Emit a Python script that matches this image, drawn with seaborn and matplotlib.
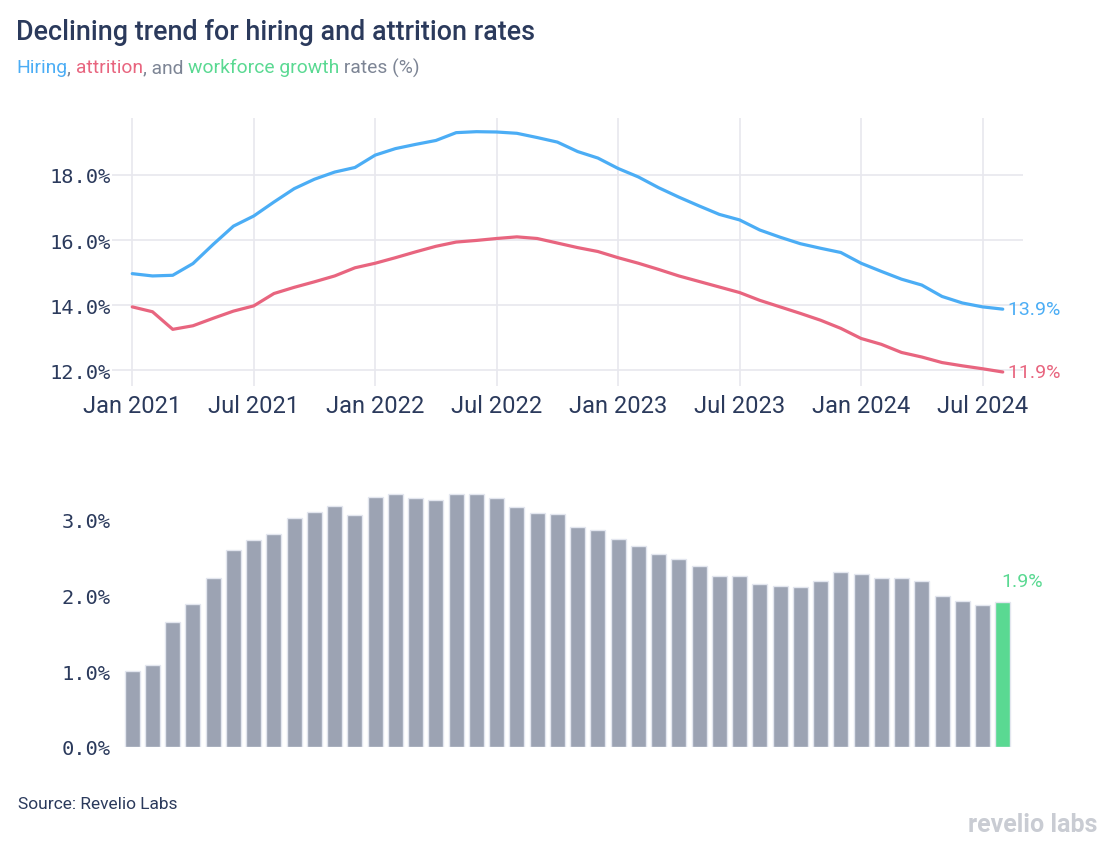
import matplotlib
matplotlib.use("Agg")
import matplotlib.pyplot as plt
import seaborn as sns
import pandas as pd
import numpy as np

# ---------------- data ----------------
months = pd.date_range("2021-01-01", "2024-08-01", freq="MS")
hiring = [14.97, 14.90, 14.92, 15.28, 15.87, 16.43, 16.74, 17.17, 17.58, 17.87,
          18.09, 18.23, 18.61, 18.81, 18.94, 19.06, 19.30, 19.33, 19.32, 19.28,
          19.15, 19.01, 18.72, 18.52, 18.20, 17.94, 17.61, 17.32, 17.05, 16.79,
          16.62, 16.31, 16.09, 15.89, 15.75, 15.62, 15.29, 15.04, 14.80, 14.62,
          14.27, 14.07, 13.95, 13.88]
attrition = [13.95, 13.80, 13.26, 13.37, 13.60, 13.82, 13.98, 14.36, 14.55, 14.72,
             14.90, 15.15, 15.29, 15.46, 15.64, 15.81, 15.94, 15.99, 16.05, 16.10,
             16.05, 15.91, 15.77, 15.65, 15.46, 15.29, 15.10, 14.90, 14.73, 14.56,
             14.39, 14.15, 13.95, 13.75, 13.54, 13.29, 12.98, 12.80, 12.55, 12.41,
             12.24, 12.14, 12.05, 11.95]
growth = [1.01, 1.09, 1.65, 1.89, 2.24, 2.60, 2.74, 2.81, 3.02, 3.11,
          3.18, 3.07, 3.31, 3.35, 3.29, 3.26, 3.35, 3.34, 3.29, 3.17,
          3.09, 3.08, 2.91, 2.87, 2.75, 2.66, 2.55, 2.48, 2.39, 2.26,
          2.26, 2.16, 2.13, 2.12, 2.19, 2.31, 2.29, 2.24, 2.24, 2.19,
          2.00, 1.93, 1.88, 1.91]
top_yticks = [12, 14, 16, 18]
bottom_yticks = [0, 1, 2, 3]
xtick_labels = ["Jan 2021", "Jul 2021", "Jan 2022", "Jul 2022",
                "Jan 2023", "Jul 2023", "Jan 2024", "Jul 2024"]

# ---------------- style ----------------
BLUE = "#4BADF5"
RED = "#E8657F"
GREEN = "#5AD992"
GRAY_BAR = "#9CA3B3"
NAVY = "#2B3A5C"
SUB_GRAY = "#7D8595"
GRID = "#E8E8EE"

sns.set_theme(style="white")
plt.rcParams["font.family"] = ["Roboto", "DejaVu Sans"]

fig = plt.figure(figsize=(11.17, 8.53), dpi=100)
fig.patch.set_facecolor("white")

idx = np.arange(len(months))
df = pd.DataFrame({"idx": idx, "hiring": hiring, "attrition": attrition,
                   "growth": growth})
df["grp"] = ["last" if i == len(idx) - 1 else "other" for i in idx]

# ---------------- top chart ----------------
ax1 = fig.add_axes([112 / 1117, 1 - 387 / 853, 911 / 1117, 268 / 853])
sns.lineplot(data=df, x="idx", y="hiring", ax=ax1, color=BLUE, linewidth=2.3)
sns.lineplot(data=df, x="idx", y="attrition", ax=ax1, color=RED, linewidth=2.3)
ax1.set_xlim(-1, 44)
ax1.set_ylim(11.52, 19.75)
ax1.set_yticks(top_yticks)
ax1.set_yticklabels([f"{v:.1f}%" for v in top_yticks],
                    family="DejaVu Sans Mono", fontsize=14.7, color=NAVY)
ax1.set_xticks(np.arange(0, 44, 6))
ax1.set_xticklabels(xtick_labels, fontsize=17, color=NAVY)
ax1.grid(True, color=GRID, linewidth=1.2)
ax1.set_axisbelow(True)
for s in ax1.spines.values():
    s.set_visible(False)
ax1.tick_params(axis="y", length=0, pad=1)
ax1.tick_params(axis="x", length=0, pad=6)
ax1.set_xlabel("")
ax1.set_ylabel("")
ax1.text(idx[-1], hiring[-1], f" {hiring[-1]:.1f}%", color=BLUE, fontsize=14,
         va="center", ha="left")
ax1.text(idx[-1], attrition[-1], f" {attrition[-1]:.1f}%", color=RED, fontsize=14,
         va="center", ha="left")

# ---------------- bottom chart ----------------
ax2 = fig.add_axes([112 / 1117, 1 - 748 / 853, 911 / 1117, 278 / 853])
sns.barplot(data=df, x="idx", y="growth", hue="grp",
            palette={"other": GRAY_BAR, "last": GREEN}, dodge=False,
            width=0.74, edgecolor="#E3E6EF", linewidth=1.0, legend=False,
            ax=ax2, saturation=1)
ax2.set_xlim(-1, 44)
ax2.set_ylim(0, 3.674)
ax2.set_yticks(bottom_yticks)
ax2.set_yticklabels([f"{v:.1f}%" for v in bottom_yticks],
                    family="DejaVu Sans Mono", fontsize=14.7, color=NAVY)
ax2.set_xticks([])
ax2.grid(False)
for s in ax2.spines.values():
    s.set_visible(False)
ax2.tick_params(axis="y", length=0, pad=1)
ax2.set_xlabel("")
ax2.set_ylabel("")
ax2.text(idx[-1] - 0.05, growth[-1] + 0.17, f"{growth[-1]:.1f}%", color=GREEN,
         fontsize=14, va="bottom", ha="left")

# ---------------- titles ----------------
fig.text(16 / 1117, 1 - 33 / 853, "Declining trend for hiring and attrition rates",
         fontsize=19.4, fontweight="medium", color=NAVY, va="center", ha="left")

renderer = fig.canvas.get_renderer()
parts = [("Hiring", BLUE), (", ", SUB_GRAY), ("attrition", RED),
         (", and ", SUB_GRAY), ("workforce growth", GREEN), (" rates (%)", SUB_GRAY)]
x0 = 16
for txt, col in parts:
    t = fig.text(x0 / 1117, 1 - 68 / 853, txt, fontsize=13.9, color=col,
                 va="center", ha="left")
    bb = t.get_window_extent(renderer=renderer)
    x0 += bb.width

fig.text(18 / 1117, 1 - 805 / 853, "Source: Revelio Labs", fontsize=12.5,
         color=NAVY, va="center", ha="left")
fig.text(1097 / 1117, 1 - 825 / 853, "revelio labs", fontsize=18,
         fontweight="bold", color="#C9CCD3", va="center", ha="right")

fig.savefig("out.png", dpi=100, facecolor="white")
